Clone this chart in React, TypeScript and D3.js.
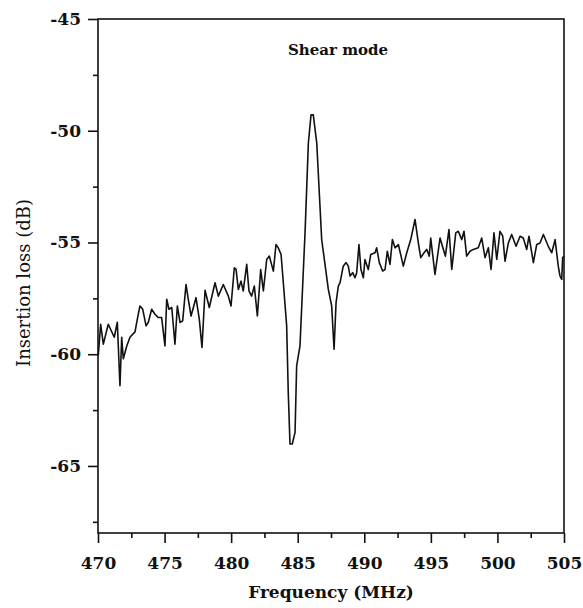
import React, { useEffect, useRef } from 'react';
import * as d3 from 'd3';

// Frequency (MHz) and insertion loss (dB)
const freq = [
  470.02, 470.2, 470.4, 470.77, 471.22, 471.45, 471.65, 471.78, 471.9, 472.16,
  472.4, 472.78, 472.95, 473.15, 473.36, 473.61, 473.78, 474.03, 474.28, 474.53,
  474.78, 475.03, 475.16, 475.33, 475.54, 475.78, 475.96, 476.16, 476.36, 476.61,
  476.78, 476.99, 477.36, 477.61, 477.81, 478.04, 478.36, 478.79, 479.04, 479.41,
  479.79, 479.99, 480.24, 480.37, 480.54, 480.74, 480.91, 481.17, 481.34, 481.54,
  481.74, 481.97, 482.22, 482.42, 482.67, 482.87, 483.17, 483.37, 483.54, 483.75,
  483.92, 484.17, 484.29, 484.42, 484.59, 484.8, 484.92, 485.17, 485.55, 485.8,
  486.0, 486.17, 486.43, 486.8, 487.3, 487.55, 487.73, 487.88, 488.05, 488.18,
  488.42, 488.63, 488.8, 488.93, 489.13, 489.3, 489.43, 489.6, 489.75, 489.93,
  490.05, 490.3, 490.48, 490.81, 490.93, 491.13, 491.38, 491.56, 491.73, 491.93,
  492.11, 492.31, 492.56, 492.76, 492.93, 493.19, 493.49, 493.81, 494.06, 494.24,
  494.49, 494.69, 494.88, 494.99, 495.31, 495.69, 495.94, 496.09, 496.36, 496.57,
  496.87, 497.06, 497.32, 497.49, 497.69, 497.94, 498.19, 498.56, 498.82, 499.07,
  499.32, 499.52, 499.74, 499.95, 500.19, 500.4, 500.57, 500.82, 501.07, 501.4,
  501.7, 501.94, 502.2, 502.37, 502.7, 502.95, 503.2, 503.45, 503.82, 504.08,
  504.33, 504.57, 504.7, 504.83, 504.9, 505.0,
];

const loss = [
  -60.07, -58.66, -59.55, -58.66, -59.24, -58.57, -61.41, -59.24, -60.2, -59.63,
  -59.24, -59.0, -58.44, -57.84, -57.99, -58.73, -58.57, -57.99, -58.21, -58.36,
  -58.36, -59.63, -57.54, -57.99, -57.91, -59.55, -57.84, -58.58, -58.51, -56.88,
  -57.54, -58.29, -57.47, -58.44, -59.7, -57.14, -57.91, -56.8, -57.4, -56.88,
  -57.4, -57.84, -56.13, -56.2, -57.1, -56.73, -57.17, -55.98, -57.17, -57.4,
  -56.95, -58.29, -56.21, -57.17, -55.76, -55.61, -56.28, -55.09, -55.24, -55.54,
  -56.8, -58.73, -61.71, -64.02, -64.02, -63.5, -60.52, -59.63, -54.57, -50.55,
  -49.29, -49.29, -50.55, -54.87, -57.1, -57.84, -59.78, -57.69, -56.95, -56.8,
  -56.06, -55.9, -56.06, -56.5, -56.35, -56.58, -56.35, -55.09, -56.21, -56.58,
  -55.76, -56.21, -55.54, -55.46, -55.24, -55.9, -56.28, -56.21, -55.39, -55.98,
  -54.87, -55.24, -55.09, -55.61, -56.06, -55.46, -54.87, -53.97, -55.02, -55.68,
  -55.46, -55.31, -55.61, -54.8, -56.43, -54.8, -55.31, -55.61, -54.42, -56.21,
  -54.57, -54.5, -54.87, -54.5, -55.61, -55.39, -55.31, -55.24, -54.8, -55.68,
  -55.24, -56.21, -54.57, -55.76, -54.5, -54.72, -55.84, -55.02, -54.64, -55.17,
  -54.72, -54.8, -55.31, -54.72, -55.9, -55.09, -55.02, -54.64, -55.17, -55.46,
  -54.87, -56.06, -56.5, -56.65, -55.68, -55.6,
];

const xTicks = [470, 475, 480, 485, 490, 495, 500, 505];
const xMinor = [472.5, 477.5, 482.5, 487.5, 492.5, 497.5, 502.5];
const yTicks = [-45, -50, -55, -60, -65];
const yMinor = [-47.5, -52.5, -57.5, -62.5, -67.5];

function App() {
  const ref = useRef(null);

  useEffect(() => {
    const element = ref.current;
    if (!element) return;
    element.innerHTML = '';

    const width = 583;
    const height = 608;
    const margin = { top: 19, right: 19, bottom: 75, left: 98 };
    const innerW = width - margin.left - margin.right;
    const innerH = height - margin.top - margin.bottom;
    const serif = '"DejaVu Serif", serif';

    const svg = d3
      .select(element)
      .append('svg')
      .attr('width', width)
      .attr('height', height)
      .style('display', 'block')
      .style('background', '#fff');

    const g = svg.append('g').attr('transform', `translate(${margin.left},${margin.top})`);

    const x = d3.scaleLinear().domain([470, 505]).range([0, innerW]);
    const y = d3.scaleLinear().domain([-68, -45]).range([innerH, 0]);

    // frame
    g.append('rect')
      .attr('x', 0)
      .attr('y', 0)
      .attr('width', innerW)
      .attr('height', innerH)
      .attr('fill', 'none')
      .attr('stroke', '#111')
      .attr('stroke-width', 1.6);

    // x axis: major + minor ticks, outward
    const xAxis = g.append('g').attr('transform', `translate(0,${innerH})`);
    xAxis.call(d3.axisBottom(x).tickValues(xTicks).tickSize(10).tickFormat(d3.format('d')));
    xAxis
      .selectAll('text')
      .attr('y', 24)
      .attr('fill', '#111')
      .style('font-family', serif)
      .style('font-weight', 'bold')
      .style('font-size', '17px');
    const xMin = g.append('g').attr('transform', `translate(0,${innerH})`);
    xMin.call(d3.axisBottom(x).tickValues(xMinor).tickSize(5).tickFormat(() => ''));

    // y axis
    const yAxis = g.append('g');
    yAxis.call(d3.axisLeft(y).tickValues(yTicks).tickSize(10).tickFormat((d) => String(d)));
    yAxis
      .selectAll('text')
      .attr('x', -17)
      .attr('fill', '#111')
      .style('font-family', serif)
      .style('font-weight', 'bold')
      .style('font-size', '17px');
    const yMin = g.append('g');
    yMin.call(d3.axisLeft(y).tickValues(yMinor).tickSize(5).tickFormat(() => ''));

    [xAxis, xMin, yAxis, yMin].forEach((a) => {
      a.selectAll('path.domain').remove();
      a.selectAll('line').attr('stroke', '#111').attr('stroke-width', 1.6);
    });

    // the trace
    const points = freq.map((f, i) => [f, loss[i]]);
    const line = d3
      .line()
      .x((d) => x(d[0]))
      .y((d) => y(d[1]));

    g.append('path')
      .datum(points)
      .attr('d', line)
      .attr('fill', 'none')
      .attr('stroke', '#111')
      .attr('stroke-width', 1.6)
      .attr('stroke-linejoin', 'round');

    // labels
    g.append('text')
      .attr('x', 190)
      .attr('y', 36)
      .text('Shear mode')
      .attr('fill', '#111')
      .style('font-family', serif)
      .style('font-weight', 'bold')
      .style('font-size', '15px');

    svg
      .append('text')
      .attr('x', margin.left + innerW / 2)
      .attr('y', 598)
      .attr('text-anchor', 'middle')
      .text('Frequency (MHz)')
      .attr('fill', '#111')
      .style('font-family', serif)
      .style('font-weight', 'bold')
      .style('font-size', '17px');

    svg
      .append('text')
      .attr('transform', 'translate(30,283) rotate(-90)')
      .attr('text-anchor', 'middle')
      .text('Insertion loss (dB)')
      .attr('fill', '#111')
      .style('font-family', serif)
      .style('font-size', '18px');
  }, []);

  return <div ref={ref} style={{ position: 'absolute', left: 0, top: 0, width: 583, height: 608 }} />;
}

export default App;
